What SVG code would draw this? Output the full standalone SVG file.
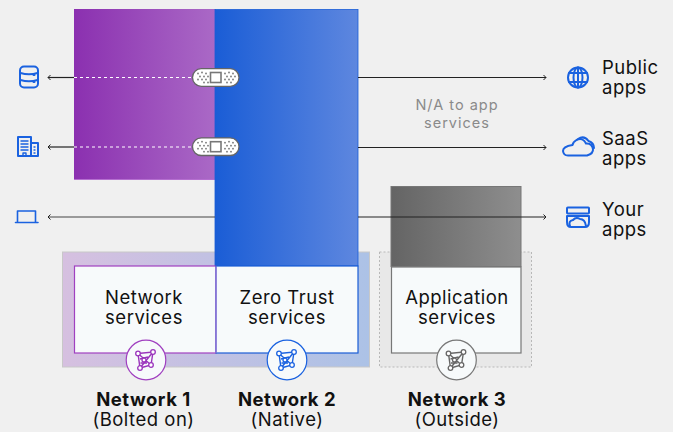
<svg xmlns="http://www.w3.org/2000/svg" width="673" height="432" viewBox="0 0 673 432">
<style>
text{font-family:Inter,"Liberation Sans",sans-serif;fill:#111;text-anchor:middle;font-size:18.500px;letter-spacing:.5px}
.b{font-weight:700}
.l{text-anchor:start}
text.n{font-size:14.500px;fill:#8a8a8a;letter-spacing:1px}
.ln{stroke:#222;stroke-width:1.2;fill:none}
.ic{fill:none;stroke:#1a62e0;stroke-width:2;stroke-linejoin:round;stroke-linecap:round}
.m{fill:none;stroke-width:1.4}
.dot{fill:#fff;stroke-width:1.3}
</style>
<defs>
<linearGradient id="gp"><stop offset="0" stop-color="#8b30b0"/><stop offset="1" stop-color="#aa69c6"/></linearGradient>
<linearGradient id="gb"><stop offset="0" stop-color="#1a5dd6"/><stop offset="1" stop-color="#5e87df"/></linearGradient>
<linearGradient id="gg"><stop offset="0" stop-color="#646464"/><stop offset="1" stop-color="#8e8e8e"/></linearGradient>
<linearGradient id="gh"><stop offset="0" stop-color="#d6c0e0"/><stop offset="1" stop-color="#acc2e6"/></linearGradient>
<marker id="a" viewBox="0 0 6 6" refX="5" refY="3" markerWidth="6" markerHeight="6" markerUnits="userSpaceOnUse" orient="auto-start-reverse"><path d="M2.500 .5L5 3L2.500 5.500" fill="none" stroke="#222" stroke-width="1"/></marker>
<g id="band">
<rect x="-23.500" y="-8.800" width="46.500" height="17.600" rx="8.800" fill="#fff" stroke="#666" stroke-width="1.300"/>
<rect x="-5.500" y="-5" width="10.500" height="10" fill="#fff" stroke="#777" stroke-width="1.600"/>
<g fill="#777"><circle cx="-18" cy="-4" r=".9"/><circle cx="-14" cy="-5" r=".9"/><circle cx="-10" cy="-4" r=".9"/><circle cx="-16" cy="-1" r=".9"/><circle cx="-12" cy="-1" r=".9"/><circle cx="-8" cy="-1" r=".9"/><circle cx="-18" cy="2" r=".9"/><circle cx="-14" cy="2" r=".9"/><circle cx="-10" cy="2" r=".9"/><circle cx="-12" cy="5" r=".9"/><circle cx="-8" cy="5" r=".9"/><circle cx="9" cy="-4" r=".9"/><circle cx="13" cy="-5" r=".9"/><circle cx="17" cy="-4" r=".9"/><circle cx="11" cy="-1" r=".9"/><circle cx="15" cy="-1" r=".9"/><circle cx="19" cy="-1" r=".9"/><circle cx="9" cy="2" r=".9"/><circle cx="13" cy="2" r=".9"/><circle cx="17" cy="2" r=".9"/><circle cx="11" cy="5" r=".9"/><circle cx="15" cy="5" r=".9"/></g>
</g>
<g id="mesh">
<path class="m" d="M-8-6.500L7-8L5 5L-6 8ZM-8-6.500L5 5M7-8L-6 8M-6-1L2-3M-5.500 3L1 3"/>
<circle class="dot" cx="-8" cy="-6.500" r="2.300"/><circle class="dot" cx="7" cy="-8" r="2.300"/><circle class="dot" cx="5" cy="5" r="2.300"/><circle class="dot" cx="-6" cy="8" r="2.300"/><circle class="dot" cx="-2" cy="0" r="2"/>
</g>
</defs>
<rect width="673" height="432" fill="#f0f0f0"/>

<g id="halo-1-2"><rect x="62.500" y="252" width="307" height="115" fill="url(#gh)" stroke="#c8c8c8"/></g>
<g id="halo-3"><rect x="379.500" y="252" width="152" height="115" fill="#e8e8e8" stroke="#b8b8b8" stroke-dasharray="2 2"/></g>

<g id="column-1"><rect x="74" y="9" width="141.500" height="170.500" fill="url(#gp)"/><path d="M74 179.500H215" stroke="#b56fd0"/></g>
<g id="column-2"><rect x="215" y="9.500" width="143" height="256.500" fill="url(#gb)" stroke="#1a5dd6" stroke-width=".8"/></g>
<g id="column-3"><rect x="391" y="186.500" width="130" height="80" fill="url(#gg)" stroke="#777"/></g>

<g id="connectors">
<path class="ln" d="M74 77.500H48" marker-end="url(#a)"/>
<path class="ln" d="M74 147H48" marker-end="url(#a)"/>
<path class="ln" d="M215 217H48" marker-end="url(#a)" style="stroke:#444"/>
<path d="M74 77.500H192M74 147H192" stroke="#fff" stroke-width="1.200" stroke-dasharray="3 3" fill="none"/>
<path class="ln" d="M358 77.500H546" marker-end="url(#a)"/>
<path class="ln" d="M358 147.500H546" marker-end="url(#a)"/>
<path class="ln" d="M358 217H546" marker-end="url(#a)"/>
</g>

<g id="patch-1"><use href="#band" x="216" y="77.500"/></g>
<g id="patch-2"><use href="#band" x="216" y="146.700"/></g>

<g id="network-services">
<rect x="74.500" y="266" width="141.500" height="87" fill="#f7fafb" stroke="#a040c0" stroke-width="1.200"/>
<text x="144" y="304">Network</text><text x="144" y="324">services</text>
</g>
<g id="zero-trust-services">
<rect x="216" y="266" width="142" height="87" fill="#f7fafb" stroke="#1a5dd6" stroke-width="1.200"/>
<path d="M216 266.500V353" stroke="#a678d4" stroke-width="1.200"/>
<text x="287" y="304">Zero Trust</text><text x="287" y="324">services</text>
</g>
<g id="application-services">
<rect x="391.500" y="267" width="129.500" height="86" fill="#f7fafb" stroke="#777" stroke-width="1.200"/>
<text x="457" y="304">Application</text><text x="457" y="324">services</text>
</g>

<g id="badge-1" transform="translate(146 360)"><circle r="19.800" fill="#f7fafb" stroke="#a040c0" stroke-width="1.200"/><use href="#mesh" stroke="#9a35bc" fill="none"/></g>
<g id="badge-2" transform="translate(287 360)"><circle r="19.800" fill="#f7fafb" stroke="#1a62e0" stroke-width="1.200"/><use href="#mesh" stroke="#1a62e0" fill="none"/></g>
<g id="badge-3" transform="translate(456.500 360)"><circle r="19.800" fill="#f7fafb" stroke="#777" stroke-width="1.200"/><use href="#mesh" stroke="#666" fill="none"/></g>

<g id="label-1"><text class="b" x="143.500" y="406">Network 1</text><text x="143.500" y="426">(Bolted on)</text></g>
<g id="label-2"><text class="b" x="287" y="406">Network 2</text><text x="287" y="426">(Native)</text></g>
<g id="label-3"><text class="b" x="457" y="406">Network 3</text><text x="457" y="426">(Outside)</text></g>

<g id="na-note"><text class="n" x="457" y="110">N/A to app</text><text class="n" x="457" y="128">services</text></g>

<g id="icon-db" class="ic"><rect x="20" y="66.500" width="18" height="21" rx="4"/><path d="M20.500 73Q29 75.500 37.500 73M20.500 80Q29 82.500 37.500 80"/><path d="M33.500 75h1M33.500 82h1"/></g>
<g id="icon-building" class="ic"><path d="M18 156V137H31V156ZM31 143H38V156H31"/><path d="M21 141h7M21 144h7M21 147h7M21 150h7M23 156v-3h3v3M34 147h1M34 150h1M34 153h1" stroke-width="1.400"/></g>
<g id="icon-laptop" class="ic" style="stroke-width:1.600"><path d="M17.500 222V211H35.500V222M15.500 222.500H38"/></g>
<g id="icon-globe" class="ic"><circle cx="578" cy="77.500" r="10"/><ellipse cx="578" cy="77.500" rx="4.500" ry="10"/><path d="M578 67.500V87.500M569 73H587M569 82H587"/></g>
<g id="icon-cloud" class="ic"><path d="M568 155.500H587Q593.500 153.500 593 149Q592 143 586 143.500Q583 137 576.500 140Q573 142 572.500 145Q563 146.500 563 151Q563.500 155.500 568 155.500Z"/><path d="M578 139Q584 135 588.500 141Q594 143 594 148"/></g>
<g id="icon-apps" class="ic"><rect x="567" y="207.500" width="22" height="6" rx=".8"/><path d="M567 216H589V222Q589 227 585 227H571Q567 227 567 222Z"/><path d="M570 226Q568 221 573 220Q576 216.500 580 219Q585 219 586 226"/></g>

<g id="label-public"><text class="l" x="602" y="74">Public</text><text class="l" x="602" y="94">apps</text></g>
<g id="label-saas"><text class="l" x="602" y="145">SaaS</text><text class="l" x="602" y="165">apps</text></g>
<g id="label-your"><text class="l" x="602" y="216">Your</text><text class="l" x="602" y="236">apps</text></g>
</svg>
